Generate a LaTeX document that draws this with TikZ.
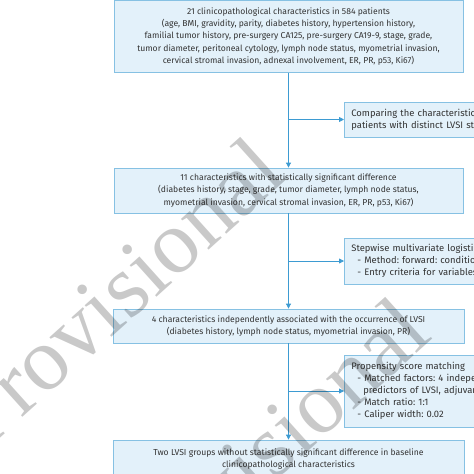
\documentclass[tikz,border=0pt]{standalone}
\usepackage{fontspec}
\setmainfont{Fira Sans}
\newfontfamily\wmfont{Liberation Serif}
\usetikzlibrary{arrows.meta}
\definecolor{boxfill}{HTML}{E3F1FA}
\definecolor{boxline}{HTML}{86C1E3}
\definecolor{arrowc}{HTML}{3D9BD2}
\definecolor{txt}{HTML}{333333}
\newcommand\fs{\fontsize{8.6}{12.2}\selectfont\frenchspacing}
\newcommand\sfs{\fontsize{9.4}{12}\selectfont\frenchspacing}
\begin{document}
\begin{tikzpicture}[x=1pt,y=1pt,
  mainbox/.style={draw=boxline, fill=boxfill, line width=0.8pt, minimum width=349pt, align=center, inner sep=0pt, font=\fs, text=txt},
  sidebox/.style={draw=boxline, fill=boxfill, line width=0.8pt, anchor=west, align=left, inner xsep=7pt, inner ysep=0pt, text=txt, font=\sfs, text width=210pt},
  flow/.style={draw=arrowc, line width=0.8pt},
  tip/.style={-{Triangle[width=5pt,length=5pt]}},
  wm/.style={rotate=42, font=\wmfont\fontsize{90}{90}\selectfont, text=black, text opacity=0.21}
]
\useasboundingbox (0,0) rectangle (474,-474);
\clip (0,0) rectangle (474,-474);
\node[mainbox, minimum height=72pt] (b1) at (288.5,-36.5) {21 clinicopathological characteristics in 584 patients\\
(age, BMI, gravidity, parity, diabetes history, hypertension history,\\
familial tumor history, pre-surgery CA125, pre-surgery CA19-9, stage, grade,\\
tumor diameter, peritoneal cytology, lymph node status, myometrial invasion,\\
cervical stromal invasion, adnexal involvement, ER, PR, p53, Ki67)};
\node[mainbox, minimum height=45pt] (b2) at (288.5,-190.5) {11 characteristics with statistically significant difference\\
(diabetes history, stage, grade, tumor diameter, lymph node status,\\
myometrial invasion, cervical stromal invasion, ER, PR, p53, Ki67)};
\node[mainbox, minimum width=351pt, minimum height=34pt] (b3) at (288.5,-326) {4 characteristics independently associated with the occurrence of LVSI\\
(diabetes history, lymph node status, myometrial invasion, PR)};
\node[mainbox, minimum width=351pt, minimum height=38pt] (b4) at (288.5,-459) {Two LVSI groups without statistically significant difference in baseline\\
clinicopathological characteristics};
\node[sidebox, minimum height=35pt] (s1) at (344,-119.5) {Comparing the characteristics of\\
patients with distinct LVSI status};
\node[sidebox, minimum height=46pt] (s2) at (344,-261) {Stepwise multivariate logistic regression\\
\hspace*{6pt}- Method: forward: conditional\\
\hspace*{6pt}- Entry criteria for variables};
\node[sidebox, minimum height=72pt] (s3) at (344,-391) {Propensity score matching\\
\hspace*{6pt}- Matched factors: 4 independent\\
\hspace*{12pt}predictors of LVSI, adjuvant therapy\\
\hspace*{6pt}- Match ratio: 1:1\\
\hspace*{6pt}- Caliper width: 0.02};
\draw[flow,tip] (b1.south) -- (b2.north);
\draw[flow,tip] (b2.south) -- (b3.north);
\draw[flow,tip] (b3.south) -- (b4.north);
\draw[flow,tip] (b1.south |- s1.west) -- (s1.west);
\draw[flow,tip] (b1.south |- s2.west) -- (s2.west);
\draw[flow,tip] (b1.south |- s3.west) -- (s3.west);
\node[wm] (wm1) at (116,-292) {Provisional};
\node[wm] (wm2) at (261,-452) {Provisional};
\end{tikzpicture}
\end{document}
